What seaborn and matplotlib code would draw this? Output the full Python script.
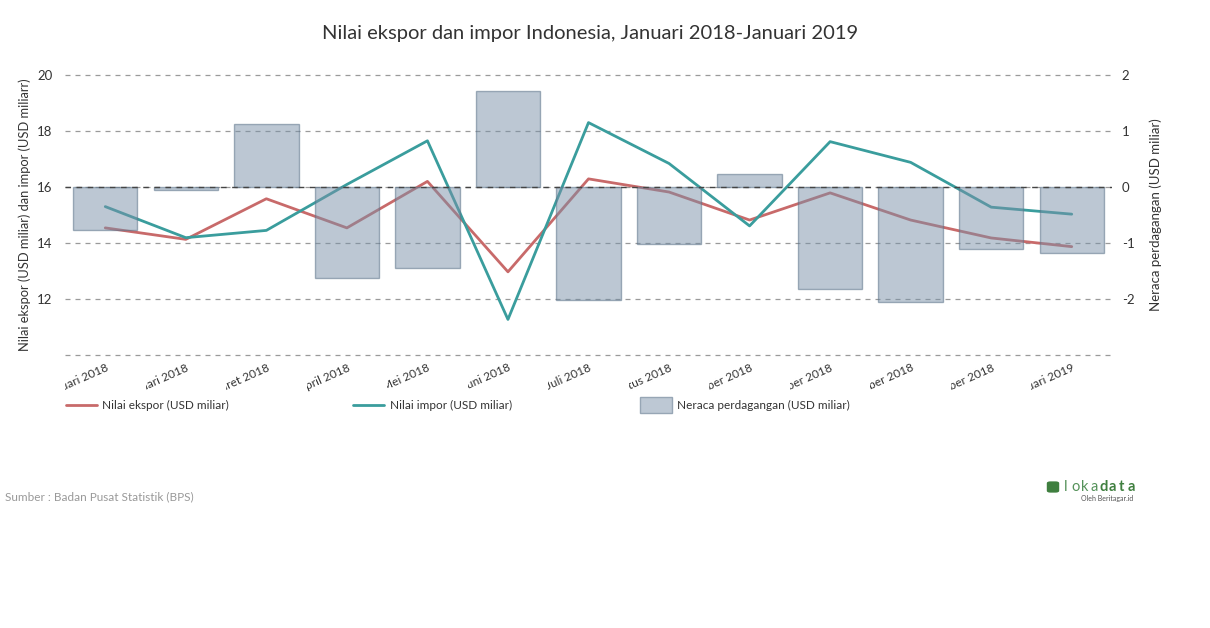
#!/usr/bin/env python3
"""Nilai ekspor dan impor Indonesia, Januari 2018 - Januari 2019 (BPS)"""

import numpy as np
import matplotlib.pyplot as plt
import matplotlib.transforms as mtransforms
from matplotlib.lines import Line2D
from matplotlib.patches import Rectangle, FancyBboxPatch
import seaborn as sns

sns.set_theme(style="white")
plt.rcParams['font.family'] = ['Lato', 'DejaVu Sans']

bulan = [
    "Januari 2018", "Februari 2018", "Maret 2018", "April 2018", "Mei 2018",
    "Juni 2018", "Juli 2018", "Agustus 2018", "September 2018", "Oktober 2018",
    "November 2018", "Desember 2018", "Januari 2019",
]
ekspor = [14.54, 14.13, 15.58, 14.54, 16.20, 12.97, 16.29, 15.82, 14.82, 15.79, 14.82, 14.18, 13.87]
impor = [15.30, 14.19, 14.45, 16.09, 17.65, 11.27, 18.30, 16.84, 14.61, 17.62, 16.88, 15.28, 15.03]
neraca = [-0.77, -0.06, 1.12, -1.63, -1.45, 1.71, -2.02, -1.02, 0.23, -1.83, -2.06, -1.11, -1.17]

RED = '#c86a6a'
TEAL = '#3a9d9d'
BAR = (0.48, 0.57, 0.66)
TXT = '#333333'
W, H = 1210, 628

fig = plt.figure(figsize=(W / 100, H / 100), dpi=100)
ax = fig.add_axes([65 / W, 1 - 355 / H, (1112 - 65) / W, (355 - 75) / H])
ax2 = ax.twinx()

pos = np.arange(len(bulan))
sns.lineplot(x=pos, y=ekspor, ax=ax, color=RED, linewidth=2)
sns.lineplot(x=pos, y=impor, ax=ax, color=TEAL, linewidth=2)
sns.barplot(x=bulan, y=neraca, ax=ax2, color=BAR, saturation=1, width=0.8,
            edgecolor='#5d7389', linewidth=1)
for p in ax2.patches:
    p.set_facecolor((*BAR, 0.5))
    p.set_edgecolor((0.36, 0.45, 0.54, 0.55))

ax.set_xlim(-0.5, len(bulan) - 0.5)
ax.set_ylim(10, 20)
ax2.set_ylim(-3, 2)
ax.set_yticks([10, 12, 14, 16, 18, 20])
ax.set_yticklabels(['', '12', '14', '16', '18', '20'])
ax2.set_yticks([-2, -1, 0, 1, 2])
ax2.set_yticklabels(['-2', '-1', '0', '1', '2'])

ax.grid(axis='y', linestyle=(0, (4, 4)), color='#9a9a9a', linewidth=0.9)
ax.grid(axis='x', visible=False)
for gl in ax.get_ygridlines():
    gl.set_clip_on(False)
ax2.grid(False)
ax2.axhline(0, linestyle=(0, (4, 4)), color='#444444', linewidth=1, zorder=5)
for a in (ax, ax2):
    for s in a.spines.values():
        s.set_visible(False)
    a.tick_params(length=0, labelsize=9.5, labelcolor=TXT)
ax.tick_params(axis='y', pad=9)
ax2.tick_params(axis='y', pad=7)

ax.set_xticks(pos)
ax.set_xticklabels(bulan, rotation=24, ha='right', va='top',
                   rotation_mode='anchor', fontsize=8.6, color=TXT)
ax.tick_params(axis='x', pad=5)
# labels are cut off at the edge of their own month column
blend = mtransforms.blended_transform_factory(ax.transData, ax.transAxes)
for i, lab in enumerate(ax.get_xticklabels()):
    lab.set_clip_box(mtransforms.TransformedBbox(
        mtransforms.Bbox([[i - 0.5, -0.5], [i + 0.5, 0]]), blend))
    lab.set_clip_on(True)

ax.set_xlabel('')
ax.set_ylabel('Nilai ekspor (USD miliar) dan impor (USD miliarr)', fontsize=9.3, color=TXT, labelpad=4)
ax2.set_ylabel('Neraca perdagangan (USD miliar)', fontsize=9.5, color=TXT, labelpad=11)

fig.text(590 / W, 1 - 33 / H, 'Nilai ekspor dan impor Indonesia, Januari 2018-Januari 2019',
         ha='center', va='center', fontsize=14.5, color=TXT)

# legend
ly = 1 - 405 / H
fig.add_artist(Line2D([66 / W, 97 / W], [ly, ly], color=RED, linewidth=2))
fig.text(102 / W, ly, 'Nilai ekspor (USD miliar)', va='center', fontsize=8.5, color=TXT)
fig.add_artist(Line2D([353 / W, 384 / W], [ly, ly], color=TEAL, linewidth=2))
fig.text(390 / W, ly, 'Nilai impor (USD miliar)', va='center', fontsize=8.5, color=TXT)
fig.add_artist(Rectangle((640 / W, 1 - 413 / H), 32 / W, 16 / H, transform=fig.transFigure,
                         facecolor='#bdc8d4', edgecolor='#97a6b5', linewidth=1))
fig.text(677 / W, ly, 'Neraca perdagangan (USD miliar)', va='center', fontsize=8.5, color=TXT)

fig.text(5 / W, 1 - 497 / H, 'Sumber : Badan Pusat Statistik (BPS)', va='center',
         fontsize=8.5, color='#999999')

# lokadata logo, letter-spaced wordmark
fig.add_artist(FancyBboxPatch((1048 / W, 1 - 492 / H), 10 / W, 10 / H, transform=fig.transFigure,
                              boxstyle='round,pad=0.001,rounding_size=0.003',
                              facecolor='#3f7f3f', edgecolor='none'))
for k, ch in enumerate('lokadata'):
    bold = k >= 4
    fig.text((1066 + k * 9.3) / W, 1 - 487 / H, ch, va='center', ha='center', fontsize=10.5,
             color='#3f7f3f' if bold else '#55925a', fontweight='bold' if bold else 'normal')
fig.text(1133 / W, 1 - 498 / H, 'Oleh Beritagar.id', va='center', ha='right', fontsize=5,
         color='#555555')

fig.savefig('out.png', dpi=100, facecolor='white')
